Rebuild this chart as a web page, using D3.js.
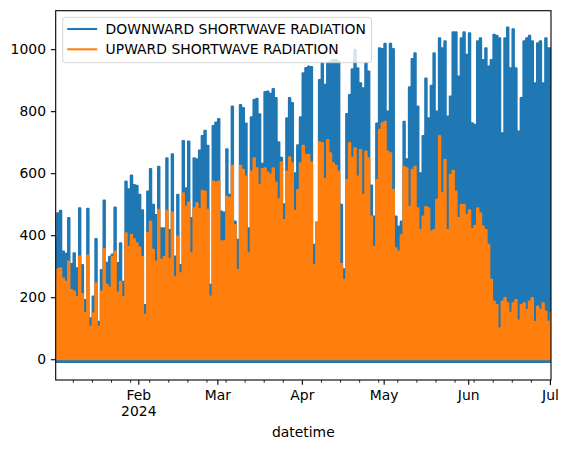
<!DOCTYPE html>
<html>
<head>
<meta charset="utf-8">
<script src="https://cdn.jsdelivr.net/npm/d3@7"></script>
<style>
    body { margin: 0; background: #fff; }
    svg text { font-family: "DejaVu Sans", sans-serif; fill: #000; }
</style>
</head>
<body>
<div id="d3-container"></div>
<script>
// Daily readings (one value per day from 1 Jan 2024): night level and midday peak
const startDate = new Date(2024, 0, 1);

const downwardPeaks = [
    390, 471, 479, 347, 340, 455, 307, 342, 293, 487, 304, 191, 485, 132, 202, 388, 121, 288, 512, 311, 330, 338, 489, 310, 374, 250, 573, 548, 592, 562, 559,
    530, 480, 175, 541, 613, 498, 465, 621, 422, 422, 648, 417, 661, 331, 530, 304, 704, 551, 702, 455, 648, 645, 673, 720, 737, 688, 240, 752, 763,
    775, 476, 473, 677, 530, 815, 444, 385, 820, 810, 760, 422, 780, 836, 840, 790, 630, 862, 863, 856, 871, 842, 700, 650, 500, 777, 842, 826, 600, 690, 780,
    922, 939, 944, 942, 369, 441, 900, 955, 885, 955, 960, 965, 965, 960, 498, 290, 791, 852, 935, 998, 938, 890, 874, 955, 928, 560, 460, 760, 1003, 1000,
    1017, 799, 1017, 1000, 460, 428, 444, 766, 645, 877, 968, 987, 815, 600, 720, 905, 777, 882, 987, 799, 1035, 1003, 1025, 783, 847, 1054, 1054, 912, 1035, 1054, 982,
    1051, 761, 756, 1025, 1035, 965, 1003, 944, 965, 1046, 1043, 1035, 729, 1035, 1070, 938, 1064, 938, 734, 842, 1025, 1035, 1043, 1025, 890, 1019, 1025, 890, 1035, 1003,
    1003
];

const upwardPeaks = [
    256, 290, 293, 260, 250, 315, 223, 218, 200, 331, 210, 148, 334, 105, 148, 245, 105, 218, 356, 240, 230, 330, 347, 215, 250, 200, 406, 363, 401, 387, 374,
    360, 330, 143, 408, 444, 353, 315, 482, 320, 330, 479, 323, 473, 264, 396, 277, 535, 492, 505, 342, 487, 503, 484, 543, 541, 482, 202, 573, 570,
    573, 380, 380, 525, 520, 624, 433, 288, 624, 611, 589, 342, 605, 648, 616, 562, 613, 616, 602, 595, 616, 570, 516, 634, 449, 605, 651, 632, 479, 546, 632,
    688, 659, 659, 634, 304, 441, 700, 697, 581, 707, 664, 632, 624, 605, 307, 256, 578, 697, 650, 680, 589, 675, 530, 670, 648, 460, 363, 578, 740, 761,
    766, 670, 664, 546, 358, 347, 400, 621, 616, 492, 611, 621, 487, 417, 460, 492, 487, 412, 417, 514, 720, 535, 643, 417, 594, 608, 541, 455, 498, 498, 465,
    480, 420, 430, 487, 471, 428, 417, 369, 256, 186, 175, 100, 186, 197, 180, 150, 180, 191, 125, 175, 180, 159, 186, 197, 120, 170, 159, 180, 154, 121,
    150
];

const downwardNight = -9;
const upwardNight = 0;

const seriesNames = ["DOWNWARD SHORTWAVE RADIATION", "UPWARD SHORTWAVE RADIATION"];
const seriesColors = ["#1f77b4", "#ff7f0e"];

const yTicks = [0, 200, 400, 600, 800, 1000];
const yLimits = [-67, 1124];
const monthLabels = ["Feb", "Mar", "Apr", "May", "Jun", "Jul"];
const yearLabel = "2024";
const xLimits = [new Date(2024, 0, 1, 17), new Date(2024, 6, 1, 9)];

function createRadiationChart() {
    // Figure size and plot box (matplotlib at 100 dpi: 10pt text = 13.9px)
    const width = 565;
    const height = 449;
    const box = { left: 55.7, right: 551, top: 10.7, bottom: 380 };
    const fontSize = "13.9px";

    const svg = d3.select('#d3-container')
        .append('svg')
        .attr('width', width)
        .attr('height', height);

    const x = d3.scaleTime()
        .domain(xLimits)
        .range([box.left, box.right]);

    const y = d3.scaleLinear()
        .domain(yLimits)
        .range([box.bottom, box.top]);

    // Turn each day into a night point and a midday point
    function toSeries(peaks, night) {
        const pts = [];
        peaks.forEach((v, i) => {
            const day = d3.timeDay.offset(startDate, i);
            pts.push({ t: day, v: night });
            pts.push({ t: d3.timeHour.offset(day, 12), v: v });
        });
        return pts;
    }

    const series = [
        toSeries(downwardPeaks, downwardNight),
        toSeries(upwardPeaks, upwardNight)
    ];

    svg.append("clipPath").attr("id", "plot-clip")
        .append("rect")
        .attr("x", box.left).attr("y", box.top)
        .attr("width", box.right - box.left)
        .attr("height", box.bottom - box.top);

    const line = d3.line()
        .x(d => x(d.t))
        .y(d => y(d.v))
        .curve(d3.curveStep);

    svg.append("g")
        .attr("clip-path", "url(#plot-clip)")
        .selectAll("path")
        .data(series)
        .join("path")
            .attr("fill", "none")
            .attr("stroke", (d, i) => seriesColors[i])
            .attr("stroke-width", 2.08)
            .attr("stroke-linejoin", "round")
            .attr("d", line);

    // Y axis
    svg.append("g")
        .attr("transform", `translate(${box.left},0)`)
        .call(d3.axisLeft(y).tickValues(yTicks).tickSize(4.86).tickPadding(4.86)
            .tickFormat(d3.format("d")))
        .call(g => g.select(".domain").remove())
        .call(g => g.selectAll("line").attr("stroke-width", 1.1))
        .call(g => g.selectAll("text").attr("font-size", fontSize));

    // X axis: weekly minor ticks, monthly major ticks
    const monthTicks = d3.timeMonth.range(d3.timeMonth.ceil(xLimits[0]), xLimits[1]);
    const mondayTicks = d3.timeMonday.range(xLimits[0], xLimits[1])
        .filter(d => d.getDate() !== 1);
    monthTicks.push(new Date(2024, 6, 1));

    svg.append("g")
        .attr("transform", `translate(0,${box.bottom})`)
        .call(d3.axisBottom(x).tickValues(mondayTicks).tickSize(2.78).tickFormat(""))
        .call(g => g.select(".domain").remove())
        .call(g => g.selectAll("line").attr("stroke-width", 0.83));

    const xAxis = svg.append("g")
        .attr("transform", `translate(0,${box.bottom})`)
        .call(d3.axisBottom(x).tickValues(monthTicks).tickSize(4.86).tickPadding(4.86)
            .tickFormat((d, i) => monthLabels[i]))
        .call(g => g.select(".domain").remove())
        .call(g => g.selectAll("line").attr("stroke-width", 1.1));
    xAxis.selectAll("text")
        .attr("font-size", fontSize)
        .attr("dy", null)
        .attr("y", 20.3);
    xAxis.select(".tick text")
        .append("tspan")
        .attr("x", 0)
        .attr("dy", 16)
        .text(yearLabel);

    // Plot frame
    svg.append("rect")
        .attr("x", box.left).attr("y", box.top)
        .attr("width", box.right - box.left)
        .attr("height", box.bottom - box.top)
        .attr("fill", "none")
        .attr("stroke", "#000")
        .attr("stroke-width", 1.1);

    svg.append("text")
        .attr("x", (box.left + box.right) / 2)
        .attr("y", 436.5)
        .attr("text-anchor", "middle")
        .attr("font-size", fontSize)
        .text("datetime");

    // Legend
    const legend = svg.append("g");
    const legendBox = legend.append("rect")
        .attr("x", 62.7).attr("y", 17.3)
        .attr("height", 45.4)
        .attr("rx", 2.8)
        .attr("fill", "#fff").attr("fill-opacity", 0.8)
        .attr("stroke", "#ccc").attr("stroke-opacity", 0.8)
        .attr("stroke-width", 1);

    const rows = legend.selectAll("g.row")
        .data(seriesNames)
        .join("g")
            .attr("class", "row")
            .attr("transform", (d, i) => `translate(0,${29 + i * 20.3})`);
    rows.append("line")
        .attr("x1", 68.3).attr("x2", 96.1)
        .attr("stroke", (d, i) => seriesColors[i])
        .attr("stroke-width", 2.08)
        .attr("stroke-linecap", "square");
    const labels = rows.append("text")
        .attr("x", 105.6)
        .attr("y", 5)
        .attr("font-size", fontSize)
        .text(d => d);

    const maxLen = d3.max(labels.nodes(), n => n.getComputedTextLength());
    legendBox.attr("width", 105.6 + maxLen + 5.6 - 62.7);

    return svg.node();
}

createRadiationChart();
</script>
</body>
</html>
